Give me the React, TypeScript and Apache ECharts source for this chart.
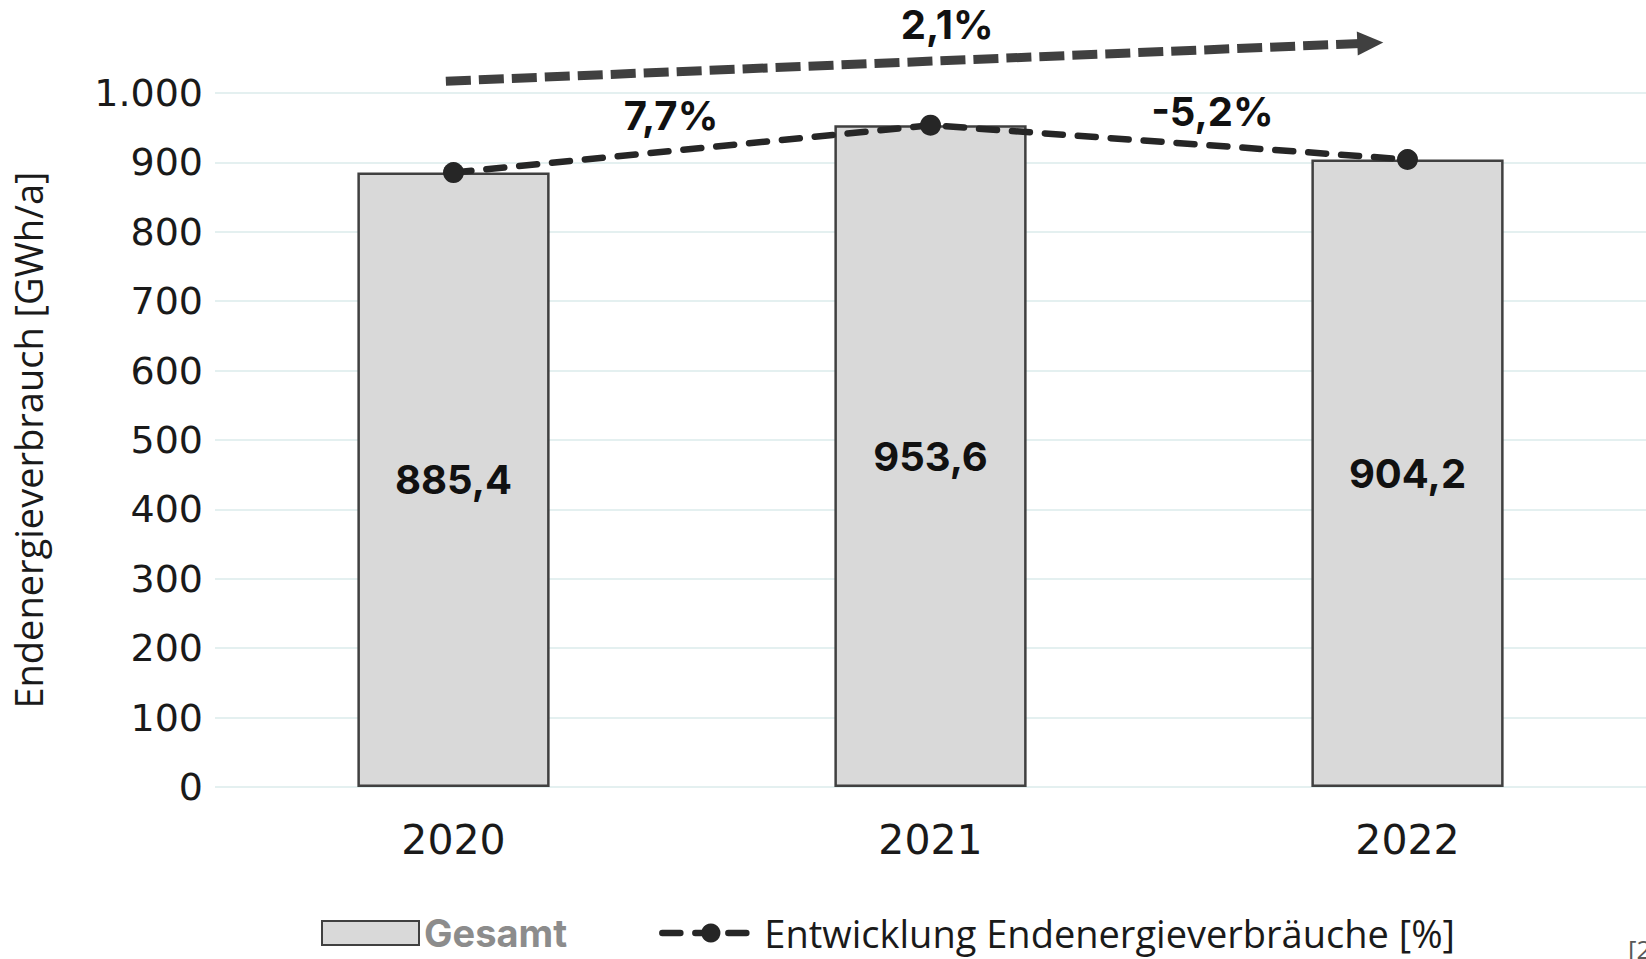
import React, { useEffect, useRef } from 'react';
import * as echarts from 'echarts';

// ---- data ----
const categories: string[] = ['2020', '2021', '2022'];
const totals: number[] = [885.4, 953.6, 904.2];
const seriesBarName = 'Gesamt';
const seriesLineName = 'Entwicklung Endenergieverbräuche [%]';
const yAxisName = 'Endenergieverbrauch [GWh/a]';
const yMin = 0;
const yMax = 1000;
const yInterval = 100;
const sourceNote = '[2]';

const fmtNum = (v: number) => v.toFixed(1).replace('.', ',');
const fmtTick = (v: number) => (v >= 1000 ? String(v).replace(/(\d)(?=(\d{3})+$)/, '$1.') : String(v));
const pctChange = (a: number, b: number) => ((b - a) / a * 100).toFixed(1).replace('.', ',') + '%';

const segmentChanges = [pctChange(totals[0], totals[1]), pctChange(totals[1], totals[2])];
const overallChange = pctChange(totals[0], totals[totals.length - 1]);

// annotation anchors (in category-index / axis-value space)
const segmentLabelAnchors: [number, number][] = [[0.456, 968], [1.591, 974]];
const overallLabelAnchor: [number, number] = [1.035, 1098];
const arrowFrom: [number, number] = [-0.016, 1017];
const arrowTo: [number, number] = [1.922, 1072];

const TICK_FONT = '"DejaVu Sans", Inter, sans-serif';
const AXIS_FONT = 'Inter, "Noto Sans", sans-serif';
const TEXT_FONT = '"Open Sans", "Noto Sans", sans-serif';

export default function App() {
  const ref = useRef<HTMLDivElement>(null);
  useEffect(() => {
    if (!ref.current) return;
    const chart = echarts.init(ref.current, undefined, { renderer: 'svg' });
    const option: any = {
      animation: false,
      backgroundColor: '#ffffff',
      grid: { left: 215, right: 0, top: 93, bottom: 172, containLabel: false, outerBoundsMode: 'none' },
      legend: {
        left: 316,
        top: 909,
        itemWidth: 97,
        itemHeight: 24,
        itemGap: 92,
        selectedMode: false,
        lineStyle: { width: 6.5 },
        data: [
          {
            name: seriesBarName,
            icon: 'rect',
            textStyle: { color: '#8c8c8c', fontWeight: 'bold', fontFamily: AXIS_FONT, fontSize: 38 },
          },
          { name: seriesLineName, textStyle: { color: '#1a1a1a', fontFamily: TEXT_FONT, fontSize: 38 } },
        ],
      },
      xAxis: [
        {
          type: 'category',
          data: categories,
          axisLine: { show: false },
          axisTick: { show: false },
          axisLabel: { color: '#1a1a1a', fontSize: 41, fontFamily: TICK_FONT, margin: 32 },
        },
        { type: 'value', min: -0.5, max: 2.5, show: false },
      ],
      yAxis: {
        type: 'value',
        min: yMin,
        max: yMax,
        interval: yInterval,
        name: yAxisName,
        nameLocation: 'middle',
        nameGap: 168,
        nameTextStyle: { color: '#1a1a1a', fontSize: 38, fontFamily: TEXT_FONT },
        axisLine: { show: false },
        axisTick: { show: false },
        axisLabel: { color: '#1a1a1a', fontSize: 38, fontFamily: TICK_FONT, margin: 12, formatter: fmtTick },
        splitLine: { lineStyle: { color: '#e4f0f0', width: 2 } },
      },
      series: [
        {
          name: seriesBarName,
          type: 'bar',
          data: totals,
          barWidth: '40.3%',
          itemStyle: { color: '#d9d9d9', borderColor: '#404040', borderWidth: 2.5 },
          label: {
            show: true,
            position: 'inside',
            formatter: (p: any) => fmtNum(p.value),
            color: '#111111',
            fontWeight: 'bold',
            fontSize: 40,
            fontFamily: AXIS_FONT,
          },
          z: 2,
        },
        {
          name: seriesLineName,
          type: 'line',
          data: totals,
          symbol: 'circle',
          symbolSize: 21,
          itemStyle: { color: '#262626' },
          lineStyle: { color: '#262626', width: 6.5, type: [18, 15], cap: 'round' },
          z: 3,
        },
        {
          name: 'arrow',
          type: 'line',
          xAxisIndex: 1,
          clip: false,
          silent: true,
          data: [
            { value: arrowFrom, symbol: 'none' },
            { value: arrowTo, symbol: 'triangle', symbolSize: [24, 26], symbolRotate: -87.7 },
          ],
          itemStyle: { color: '#404040' },
          lineStyle: { color: '#404040', width: 9, type: [25, 8], cap: 'butt' },
          z: 4,
        },
        {
          name: 'changes',
          type: 'scatter',
          xAxisIndex: 1,
          clip: false,
          silent: true,
          symbolSize: 1,
          itemStyle: { color: 'rgba(0,0,0,0)', opacity: 1 },
          data: [
            { value: segmentLabelAnchors[0], label: { formatter: segmentChanges[0] } },
            { value: segmentLabelAnchors[1], label: { formatter: segmentChanges[1] } },
            { value: overallLabelAnchor, label: { formatter: overallChange } },
          ],
          label: {
            show: true,
            position: 'inside',
            color: '#111111',
            opacity: 1,
            fontWeight: 'bold',
            fontSize: 40,
            fontFamily: AXIS_FONT,
          },
          z: 5,
        },
      ],
      graphic: [
        {
          type: 'text',
          left: 1628,
          top: 936,
          style: { text: sourceNote, fill: '#595959', fontSize: 26, fontFamily: TEXT_FONT },
        },
      ],
    };
    chart.setOption(option);
    return () => chart.dispose();
  }, []);
  return <div ref={ref} style={{ position: 'fixed', left: 0, top: 0, width: 1646, height: 959 }} />;
}
